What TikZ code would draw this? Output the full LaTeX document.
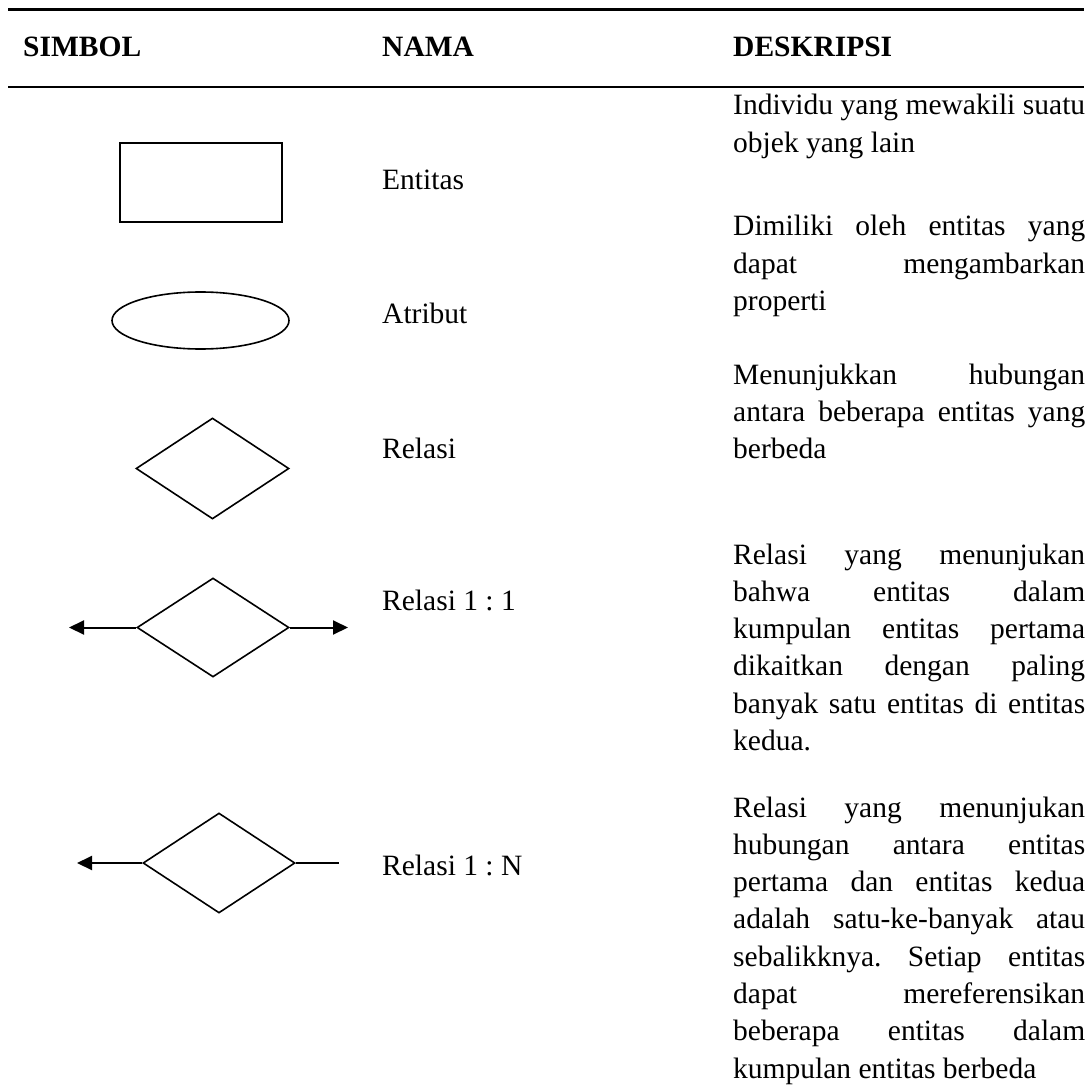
\documentclass[tikz,border=0pt]{standalone}
\usepackage{fontspec}
\setmainfont{Liberation Serif}
\usetikzlibrary{shapes.geometric, arrows.meta}
\tolerance=10000
\hyphenpenalty=10000
\exhyphenpenalty=10000
\frenchspacing

\begin{document}
\begin{tikzpicture}[x=1pt, y=-1pt,
  symb/.style={draw, line width=1.6pt, inner sep=0pt},
  head/.style={anchor=base west, inner sep=0pt, font=\fontsize{29.5}{37.3}\selectfont\bfseries},
  namelbl/.style={anchor=base west, inner sep=0pt, font=\fontsize{29.5}{37.3}\selectfont},
  desctext/.style={anchor=base west, inner sep=0pt, text width=352pt, align=justify,
    font=\fontsize{29.5}{37.3}\selectfont},
  arr/.style={line width=2pt, -{Triangle[length=15pt, width=14pt]}}]

  \useasboundingbox (0,0) rectangle (1089,1091);

  % table rules
  \coordinate (topL) at (8,9.5);
  \coordinate (topR) at (1084,9.5);
  \coordinate (midL) at (8,87);
  \coordinate (midR) at (1084,87);
  \draw[line width=2.4pt] (topL) -- (topR);
  \draw[line width=2.4pt] (midL) -- (midR);

  \node[head] (hSimbol) at (23,57) {SIMBOL};
  \node[head] (hNama) at (382,57) {NAMA};
  \node[head] (hDesk) at (733,57) {DESKRIPSI};

  % symbols
  \node[symb, rectangle, minimum width=162pt, minimum height=79pt] (ent) at (201,182.5) {};
  \node[symb, ellipse, minimum width=177pt, minimum height=57pt] (atr) at (200.5,320.5) {};
  \node[symb, diamond, minimum width=153pt, minimum height=101pt] (rel) at (212.5,468.5) {};
  \node[symb, diamond, minimum width=152pt, minimum height=99pt] (relOne) at (213,627.5) {};
  \node[symb, diamond, minimum width=152pt, minimum height=100pt] (relN) at (219,863) {};

  \coordinate (relOneL) at (69,627.5);
  \coordinate (relOneR) at (348,627.5);
  \coordinate (relNL) at (77,863);
  \coordinate (relNR) at (339,863);

  \draw[arr] (relOne.west) -- (relOneL);
  \draw[arr] (relOne.east) -- (relOneR);
  \draw[arr] (relN.west) -- (relNL);
  \draw[line width=2pt] (relN.east) -- (relNR);

  % names
  \node[namelbl] (nEnt) at (382,190) {Entitas};
  \node[namelbl] (nAtr) at (382,323) {Atribut};
  \node[namelbl] (nRel) at (382,458) {Relasi};
  \node[namelbl] (nRelOne) at (382,610) {Relasi 1 : 1};
  \node[namelbl] (nRelN) at (382,875) {Relasi 1 : N};

  % descriptions
  \node[desctext] (dEnt) at (733,115) {Individu yang mewakili suatu\linebreak objek yang lain};
  \node[desctext] (dAtr) at (733,236) {Dimiliki oleh entitas yang\linebreak dapat mengambarkan\linebreak properti};
  \node[desctext] (dRel) at (733,384) {Menunjukkan hubungan\linebreak antara beberapa entitas yang\linebreak berbeda};
  \node[desctext] (dRelOne) at (733,564) {Relasi yang menunjukan\linebreak bahwa entitas dalam\linebreak kumpulan entitas pertama\linebreak dikaitkan dengan paling\linebreak banyak satu entitas di entitas\linebreak kedua.};
  \node[desctext] (dRelN) at (733,817) {Relasi yang menunjukan\linebreak hubungan antara entitas\linebreak pertama dan entitas kedua\linebreak adalah satu-ke-banyak atau\linebreak sebalikknya. Setiap entitas\linebreak dapat mereferensikan\linebreak beberapa entitas dalam\linebreak kumpulan entitas berbeda};

\end{tikzpicture}
\end{document}
